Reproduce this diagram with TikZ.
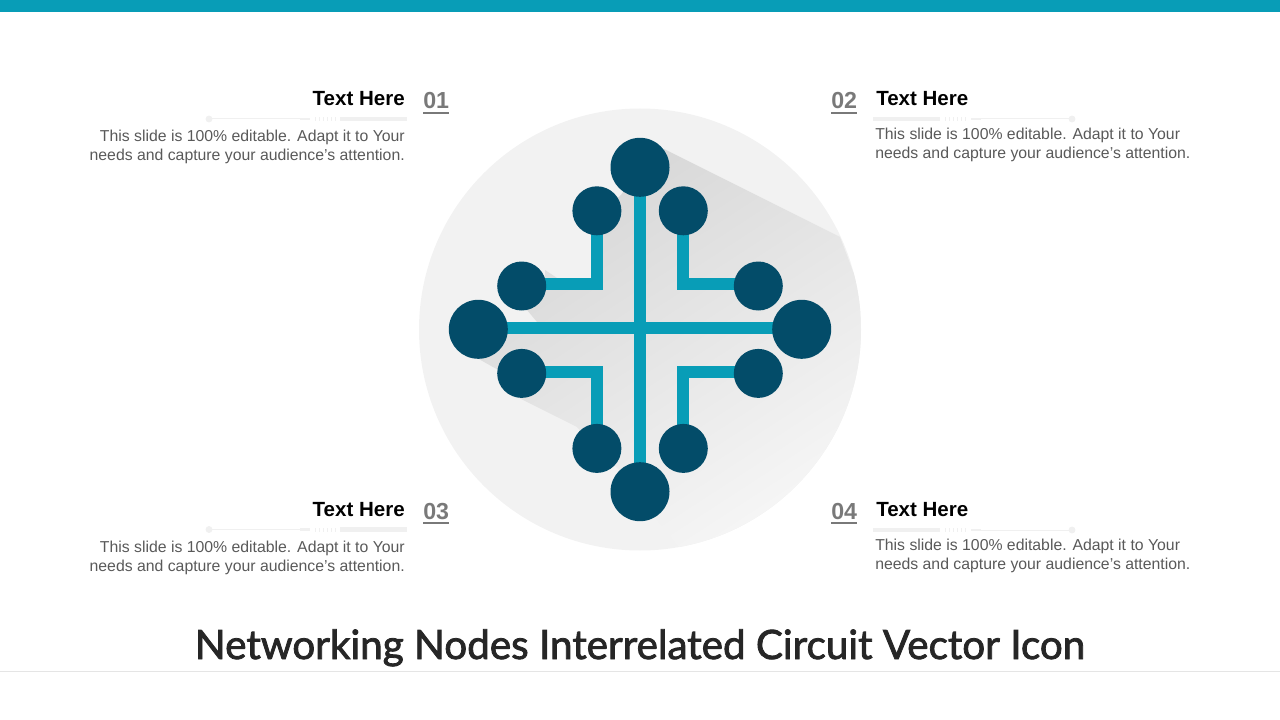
\documentclass[tikz,border=0pt]{standalone}
\usepackage{fontspec}
\setmainfont{Liberation Sans}
\newfontfamily\titlefont[FakeBold=2]{Lato}
\usetikzlibrary{backgrounds}
\definecolor{teal1}{HTML}{089DB7}
\definecolor{navy1}{HTML}{034C69}
\definecolor{disc}{HTML}{F2F2F2}
\definecolor{decor}{HTML}{F0F0F0}
\tikzset{
 x=0.75pt,y=-0.75pt,
 bigdot/.style={circle,fill=navy1,minimum size=44.25pt,inner sep=0pt},
 smalldot/.style={circle,fill=navy1,minimum size=36.75pt,inner sep=0pt},
 wire/.style={teal1,line width=9pt},
 heading/.style={font=\fontsize{15.4}{18}\selectfont\bfseries,text=black,inner sep=0pt},
 num/.style={font=\fontsize{17.4}{20}\selectfont\bfseries,text=gray!95!black,inner sep=0pt},
 numline/.style={line width=1.9pt,draw=gray!95!black},
 body/.style={font=\fontsize{11.85}{14.25}\selectfont,text=black!65,inner sep=0pt},
 titletext/.style={font=\titlefont\fontsize{30.3}{36}\selectfont,text=black!85,inner sep=0pt},
 decorthin/.style={decor,line width=0.75pt},
 decorthick/.style={decor,line width=3.6pt},
 decormid/.style={decor,line width=2.2pt},
 decordots/.style={decor,line width=3pt,dash pattern=on 1pt off 2pt},
}
\begin{document}
\begin{tikzpicture}
\useasboundingbox (0,0) rectangle (1280,720);
\fill[teal1] (0,0) rectangle (1280,12.5);
\draw[black!10,line width=0.75pt] (0,671) -- (1280,671);

% circuit nodes
\node[bigdot] (T) at (640,167.3) {};
\node[bigdot] (B) at (640,491.7) {};
\node[bigdot] (L) at (478.3,329.3) {};
\node[bigdot] (R) at (801.7,329.3) {};
\node[smalldot] (a1) at (596.9,210.8) {};
\node[smalldot] (a2) at (521.7,286) {};
\node[smalldot] (b1) at (683.3,210.8) {};
\node[smalldot] (b2) at (758.3,286) {};
\node[smalldot] (c1) at (596.9,448.4) {};
\node[smalldot] (c2) at (521.7,373.4) {};
\node[smalldot] (d1) at (683.3,448.4) {};
\node[smalldot] (d2) at (758.3,373.4) {};
\coordinate (ea) at (597.4,284);
\coordinate (eb) at (683.3,284);
\coordinate (ec) at (597.4,371.5);
\coordinate (ed) at (683.3,371.5);
\coordinate (hl) at (478.3,327.9);
\coordinate (hr) at (801.7,327.9);

\begin{scope}[on background layer]
 \fill[disc] (640,329.5) circle[radius=165.75pt];
 \begin{scope}
  \clip (640,329.5) circle[radius=165.75pt];
  \shade[top color=black!16,bottom color=black!3.5,shading angle=33]
   (640,167) -- (664,149) -- (840,237) -- (860,290) -- (862,400) -- (800,520) -- (690,556) -- (677,545)
   -- (655,517) -- (640,491) -- (597,448) -- (577,427) -- (517,397) -- (500,371) -- (477,358)
   -- (478,334) -- (537,334) -- (537,322) -- (527,310) -- (540,290) -- (603,290) -- (603,211)
   -- (621,195) -- cycle;
  \fill[black!12] (545,270) -- (557,278) -- (545,278) -- cycle;
 \end{scope}
 \draw[wire] (T.center) -- (B.center);
 \draw[wire] (hl) -- (hr);
 \draw[wire,line join=miter] (a1.center -| ea) -- (ea) -- (ea -| a2.center);
 \draw[wire,line join=miter] (b1.center) -- (eb) -- (eb -| b2.center);
 \draw[wire,line join=miter] (c1.center -| ec) -- (ec) -- (ec -| c2.center);
 \draw[wire,line join=miter] (d1.center) -- (ed) -- (ed -| d2.center);
\end{scope}

% text block 01
\node[heading,anchor=base east] (h1) at (405,105.5) {Text Here};
\node[num,anchor=base west] (n1) at (423,109) {01};
\draw[numline] (n1.west |- 0,113) -- (n1.east |- 0,113);
\node[body,anchor=north east,align=right] (t1) at (405,130) {This slide is 100\% editable. Adapt it to Your\\needs and capture your audience’s attention.};
% text block 02
\node[heading,anchor=base west] (h2) at (876,105.5) {Text Here};
\node[num,anchor=base west] (n2) at (831,109) {02};
\draw[numline] (n2.west |- 0,113) -- (n2.east |- 0,113);
\node[body,anchor=north west,align=left] (t2) at (875,128) {This slide is 100\% editable. Adapt it to Your\\needs and capture your audience’s attention.};
% text block 03
\node[heading,anchor=base east] (h3) at (405,516) {Text Here};
\node[num,anchor=base west] (n3) at (423,519) {03};
\draw[numline] (n3.west |- 0,523) -- (n3.east |- 0,523);
\node[body,anchor=north east,align=right] (t3) at (405,541) {This slide is 100\% editable. Adapt it to Your\\needs and capture your audience’s attention.};
% text block 04
\node[heading,anchor=base west] (h4) at (876,516) {Text Here};
\node[num,anchor=base west] (n4) at (831,519) {04};
\draw[numline] (n4.west |- 0,523) -- (n4.east |- 0,523);
\node[body,anchor=north west,align=left] (t4) at (875,539) {This slide is 100\% editable. Adapt it to Your\\needs and capture your audience’s attention.};

% decorative rules
\foreach \yy in {119,529.5}{
 \fill[decor] (209,\yy) circle[radius=2.6pt];
 \draw[decorthin] (209,\yy) -- (300,\yy);
 \draw[decormid] (300,\yy) -- (310,\yy);
 \draw[decordots] (315,\yy) -- (336,\yy);
 \draw[decorthick] (340,\yy) -- (407,\yy);
}
\foreach \yy in {119,530}{
 \fill[decor] (1072,\yy) circle[radius=2.6pt];
 \draw[decorthin] (1072,\yy) -- (981,\yy);
 \draw[decormid] (981,\yy) -- (971,\yy);
 \draw[decordots] (966,\yy) -- (944,\yy);
 \draw[decorthick] (940,\yy) -- (873,\yy);
}

\node[titletext,anchor=base] (title) at (640,659) {Networking Nodes Interrelated Circuit Vector Icon};
\end{tikzpicture}
\end{document}
